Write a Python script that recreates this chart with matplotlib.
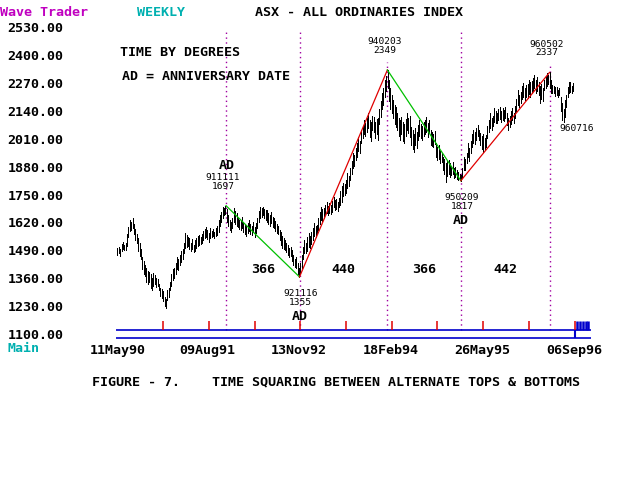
import matplotlib.pyplot as plt
import numpy as np
import pandas as pd

# weekly bars, first week = 11May90
start = '11May90'
highs = [
    1495, 1500, 1490, 1515, 1522, 1510, 1518, 1560, 1595, 1630,
    1620, 1640, 1610, 1585, 1560, 1540, 1520, 1490, 1450, 1430,
    1410, 1400, 1385, 1380, 1370, 1350, 1375, 1365, 1350, 1345,
    1320, 1300, 1295, 1285, 1260, 1250, 1290, 1300, 1330, 1370,
    1395, 1400, 1420, 1450, 1440, 1460, 1480, 1490, 1520, 1565,
    1555, 1545, 1540, 1520, 1535, 1510, 1530, 1540, 1550, 1555,
    1545, 1560, 1575, 1585, 1597, 1580, 1565, 1590, 1575, 1585,
    1570, 1590, 1600, 1630, 1652, 1665, 1690, 1685, 1697, 1680,
    1650, 1630, 1620, 1640, 1684, 1670, 1660, 1640, 1630, 1625,
    1644, 1620, 1610, 1600, 1615, 1628, 1610, 1600, 1620, 1595,
    1615, 1640, 1670, 1692, 1685, 1690, 1680, 1675, 1676, 1660,
    1650, 1665, 1645, 1640, 1625, 1610, 1600, 1580, 1570, 1550,
    1540, 1530, 1520, 1510, 1495, 1500, 1484, 1460, 1440, 1452,
    1420, 1400, 1420, 1460, 1500, 1532, 1520, 1545, 1564, 1550,
    1570, 1590, 1612, 1600, 1605, 1640, 1665, 1692, 1680, 1685,
    1700, 1716, 1695, 1710, 1700, 1720, 1740, 1725, 1730, 1715,
    1735, 1770, 1790, 1804, 1800, 1820, 1852, 1840, 1880, 1910,
    1949, 1940, 1975, 2000, 2029, 2010, 2060, 2080, 2109, 2095,
    2120, 2141, 2110, 2100, 2130, 2125, 2100, 2115, 2120, 2160,
    2200, 2237, 2260, 2300, 2320, 2349, 2301, 2260, 2230, 2205,
    2180, 2170, 2141, 2120, 2110, 2125, 2100, 2090, 2115, 2141,
    2120, 2130, 2077, 2060, 2040, 2070, 2050, 2085, 2109, 2090,
    2080, 2100, 2110, 2125, 2095, 2110, 2061, 2050, 2040, 2055,
    1997, 1980, 1990, 1960, 1950, 1933, 1920, 1900, 1910, 1917,
    1900, 1890, 1905, 1880, 1885, 1870, 1860, 1850, 1845, 1880,
    1933, 1920, 1950, 1997, 1975, 2010, 2040, 2061, 2050, 2070,
    2085, 2060, 2045, 2030, 2040, 2020, 2035, 2080, 2110, 2141,
    2120, 2130, 2165, 2150, 2140, 2160, 2173, 2150, 2165, 2155,
    2170, 2141, 2120, 2130, 2150, 2165, 2140, 2175, 2210, 2253,
    2230, 2245, 2270, 2285, 2260, 2275, 2280, 2301, 2290, 2295,
    2310, 2325, 2300, 2315, 2293, 2270, 2280, 2260, 2300, 2320,
    2335, 2325, 2337, 2300, 2277, 2270, 2265, 2269, 2255, 2260,
    2221, 2190, 2160, 2205, 2230, 2269, 2290, 2293, 2270, 2285,
]
lows = [
    1462, 1470, 1455, 1478, 1490, 1482, 1486, 1505, 1545, 1575,
    1580, 1590, 1560, 1530, 1520, 1480, 1455, 1440, 1395, 1370,
    1360, 1330, 1320, 1330, 1300, 1290, 1310, 1320, 1305, 1310,
    1290, 1265, 1255, 1240, 1215, 1204, 1245, 1260, 1290, 1310,
    1340, 1350, 1370, 1395, 1390, 1410, 1425, 1440, 1470, 1495,
    1500, 1505, 1490, 1480, 1490, 1475, 1480, 1495, 1505, 1510,
    1515, 1520, 1530, 1540, 1545, 1535, 1525, 1540, 1545, 1550,
    1540, 1550, 1555, 1570, 1600, 1620, 1640, 1650, 1655, 1620,
    1600, 1580, 1570, 1590, 1620, 1610, 1600, 1595, 1585, 1580,
    1590, 1570, 1560, 1550, 1565, 1575, 1560, 1556, 1570, 1548,
    1565, 1590, 1620, 1640, 1645, 1650, 1640, 1628, 1620, 1610,
    1600, 1615, 1596, 1590, 1575, 1565, 1560, 1530, 1510, 1495,
    1490, 1484, 1475, 1460, 1452, 1455, 1430, 1410, 1404, 1400,
    1370, 1355, 1375, 1400, 1440, 1470, 1468, 1480, 1500, 1495,
    1515, 1530, 1550, 1545, 1560, 1580, 1610, 1630, 1625, 1640,
    1650, 1660, 1652, 1660, 1655, 1668, 1690, 1675, 1680, 1670,
    1690, 1700, 1715, 1745, 1750, 1760, 1780, 1790, 1820, 1850,
    1880, 1890, 1917, 1930, 1960, 1950, 1997, 2020, 2040, 2030,
    2050, 2070, 2029, 2010, 2060, 2050, 2020, 2040, 2013, 2090,
    2125, 2160, 2180, 2221, 2250, 2260, 2200, 2160, 2141, 2120,
    2090, 2077, 2060, 2030, 2013, 2040, 2010, 1997, 2030, 2060,
    2045, 2029, 1990, 1970, 1957, 1990, 1975, 2013, 2030, 2020,
    2015, 2030, 2040, 2050, 2029, 2045, 1990, 1985, 1981, 1995,
    1930, 1915, 1920, 1901, 1905, 1870, 1850, 1813, 1840, 1850,
    1836, 1845, 1850, 1830, 1836, 1825, 1820, 1820, 1817, 1830,
    1868, 1870, 1900, 1930, 1910, 1950, 1981, 2000, 1995, 2013,
    2030, 2015, 1990, 1970, 1957, 1965, 1980, 2020, 2050, 2070,
    2061, 2080, 2100, 2093, 2095, 2110, 2115, 2101, 2110, 2105,
    2120, 2085, 2061, 2075, 2090, 2110, 2093, 2120, 2150, 2180,
    2173, 2190, 2210, 2220, 2205, 2220, 2215, 2235, 2221, 2240,
    2250, 2260, 2237, 2250, 2230, 2189, 2210, 2200, 2253, 2260,
    2270, 2280, 2260, 2240, 2237, 2240, 2225, 2230, 2221, 2230,
    2150, 2110, 2101, 2125, 2170, 2221, 2240, 2245, 2240, 2250,
]

pivot_dates = ['911111', '921116', '940203', '950209', '960502']
pivot_values = [1697, 1355, 2349, 1817, 2337]
pivot_ad = [True, True, False, True, False]
pivot_days = ['366', '440', '366', '442']
last_low_date = '960716'

date_labels = ['11May90', '09Aug91', '13Nov92', '18Feb94', '26May95', '06Sep96']
price_ticks = [1100, 1230, 1360, 1490, 1620, 1750, 1880, 2010, 2140, 2270, 2400, 2530]
red_ticks = [33, 66, 99, 132, 165, 198, 231, 264, 297, 330]
blue_ticks = [332, 334, 336, 338, 340]

FONT = 'DejaVu Sans Mono'
W, H = 624, 480
PURPLE = '#a000a0'
BLUE = '#0000cc'
RED = '#e00000'
GREEN = '#00c000'

t0 = pd.to_datetime(start, format='%d%b%y')


def week_of(s, fmt):
    return (pd.to_datetime(s, format=fmt) - t0).days / 7


def fig_text(x, y, s, **kw):
    kw.setdefault('family', FONT)
    kw.setdefault('fontsize', 9.6)
    kw.setdefault('fontweight', 'bold')
    kw.setdefault('va', 'center')
    kw.setdefault('ha', 'left')
    fig.text(x / W, 1 - y / H, s, **kw)


fig = plt.figure(figsize=(6.24, 4.8), dpi=100)
box = [110 / W, 1 - 342 / H, 490 / W, 322 / H]

# the price scale printed on the left is a little stretched vs the plotted bars
lab_ax = fig.add_axes(box)
lab_ax.set_ylim(1062.7, 2563.9)
lab_ax.set_xticks([])
lab_ax.set_yticks(price_ticks)
lab_ax.set_yticklabels(['%.2f' % v for v in price_ticks], family=FONT, fontsize=9.6,
                       fontweight='bold')
lab_ax.tick_params(axis='y', length=0, pad=33.5)
lab_ax.patch.set_visible(False)
for s in lab_ax.spines.values():
    s.set_visible(False)

ax = fig.add_axes(box)
ax.patch.set_visible(False)
ax.set_xlim(-5.34, 348.3)
ax.set_ylim(1042.4, 2589)
ax.set_yticks([])
for s in ax.spines.values():
    s.set_visible(False)

weeks = np.arange(len(highs))
ax.vlines(weeks, lows, highs, color='black', linewidth=0.6, antialiased=False, zorder=2)

pw = [week_of(d, '%y%m%d') for d in pivot_dates]
tops = [2530 if ad else v + 40 for ad, v in zip(pivot_ad, pivot_values)]
ax.vlines(pw, 1100, tops, colors=PURPLE, linestyles=(0, (1, 2.5)), linewidth=1, zorder=1)
for i in range(len(pw) - 1):
    ax.plot(pw[i:i + 2], pivot_values[i:i + 2], color=GREEN if i % 2 == 0 else RED,
            linewidth=0.9, zorder=3)

# pivot labels
small = dict(family=FONT, fontsize=6.8, ha='center', va='center', linespacing=0.95,
             textcoords='offset pixels')
big = dict(family=FONT, fontsize=9.6, fontweight='bold', ha='center', va='center',
           textcoords='offset pixels')
for i, (w, v) in enumerate(zip(pw, pivot_values)):
    top = i % 2 == 0
    lab = pivot_dates[i] + '\n' + str(v)
    ax.annotate(lab, (w, v), xytext=(-3, 24) if top else (1, -21), **small)
    if pivot_ad[i]:
        ax.annotate('AD', (w, v), xytext=(1, 40) if top else (0, -40), **big)

lw = week_of(last_low_date, '%y%m%d')
ax.annotate(last_low_date, (lw, lows[int(round(lw))]), xytext=(12, -12), **small)

for i, d in enumerate(pivot_days):
    ax.text((pw[i] + pw[i + 1]) / 2, 1393, d, family=FONT, fontsize=9.6,
            fontweight='bold', ha='center', va='center')

# time bar
bar_low = 1061.6
ax.hlines([1100, bar_low], -1, 341.8, color=BLUE, linewidth=1.2)
ax.vlines(red_ticks, 1100, 1143, color=RED, linewidth=1.1)
ax.vlines(blue_ticks, 1100, 1143, color=BLUE, linewidth=1.8)
ax.vlines([330], bar_low, 1100, color=BLUE, linewidth=1.5)

ax.set_xticks([week_of(d, '%d%b%y') for d in date_labels])
ax.set_xticklabels(date_labels, family=FONT, fontsize=9.6, fontweight='bold')
ax.tick_params(axis='x', length=0, pad=1.5)

fig_text(0, 12, 'Wave Trader', color='#c000c0')
fig_text(137, 12, 'WEEKLY', color='#00b0b0')
fig_text(255, 12, 'ASX - ALL ORDINARIES INDEX', color='black')
fig_text(120, 52, 'TIME BY DEGREES')
fig_text(122, 76, 'AD = ANNIVERSARY DATE')
fig_text(8, 349, 'Main', color='#00b0b0')
fig_text(92, 382, 'FIGURE - 7.    TIME SQUARING BETWEEN ALTERNATE TOPS & BOTTOMS')

fig.savefig('out.png', dpi=100)
